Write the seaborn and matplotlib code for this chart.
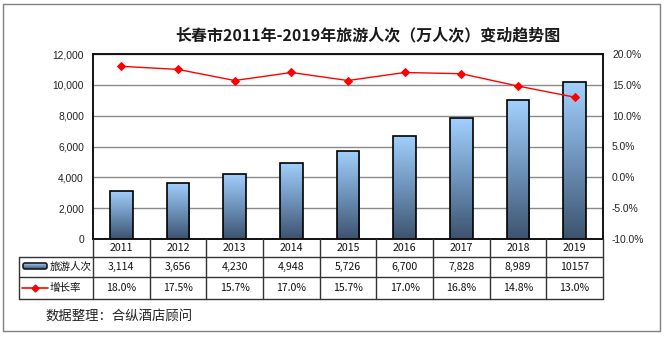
import numpy as np
import pandas as pd
import matplotlib
matplotlib.use("Agg")
import matplotlib.pyplot as plt
import seaborn as sns
from matplotlib.patches import Rectangle, FancyBboxPatch
from matplotlib.colors import LinearSegmentedColormap
from matplotlib.ticker import FuncFormatter, MultipleLocator
from matplotlib.lines import Line2D

# ---------------- data ----------------
years = ["2011", "2012", "2013", "2014", "2015", "2016", "2017", "2018", "2019"]
visitors = [3114, 3656, 4230, 4948, 5726, 6700, 7828, 8989, 10157]
visitor_labels = ["3,114", "3,656", "4,230", "4,948", "5,726", "6,700", "7,828", "8,989", "10157"]
growth = [18.0, 17.5, 15.7, 17.0, 15.7, 17.0, 16.8, 14.8, 13.0]
series_names = ["旅游人次", "增长率"]
title = "长春市2011年-2019年旅游人次（万人次）变动趋势图"
source = "数据整理：合纵酒店顾问"

sns.set_theme(style="white")
plt.rcParams['font.family'] = ['Noto Sans CJK SC', 'DejaVu Sans']

W, H = 664, 337
fig = plt.figure(figsize=(W / 100, H / 100), dpi=100)
fig.patch.set_facecolor("white")

def fx(x):
    return x / W

def fy(y):
    return 1 - y / H

L, R, T, B = 93, 603, 54, 239
unit = (R - L) / len(years)

ax = fig.add_axes([fx(L), fy(B), (R - L) / W, (B - T) / H])
df = pd.DataFrame({"year": years, "visitors": visitors, "growth": growth})
sns.barplot(data=df, x="year", y="visitors", ax=ax, width=0.4, color="#7fa8d0",
            edgecolor="black", linewidth=1.2, zorder=3)

cmap = LinearSegmentedColormap.from_list("g", ["#3d536e", "#6e93bb", "#a2d0fd"])
grad = np.linspace(0, 1, 256).reshape(-1, 1)
for p in list(ax.patches):
    x0, y0 = p.get_x(), p.get_y()
    w, h = p.get_width(), p.get_height()
    im = ax.imshow(grad, extent=[x0, x0 + w, y0, y0 + h], origin="lower",
                   cmap=cmap, aspect="auto", zorder=3.5, interpolation="bilinear")
    im.set_clip_path(p)
    p.set_facecolor("none")
    p.set_zorder(4)

ax.set_xlim(-0.5, len(years) - 0.5)
ax.set_ylim(0, 12000)
ax.yaxis.set_major_locator(MultipleLocator(2000))
ax.yaxis.set_major_formatter(FuncFormatter(lambda v, p: f"{int(v):,}"))
ax.set_xticks([])
ax.set_xlabel("")
ax.set_ylabel("")
ax.yaxis.grid(True, color="#8a8a8a", lw=1)
ax.set_axisbelow(True)
ax.tick_params(axis="y", length=0, pad=6.5, labelsize=7.4, labelcolor="#222222")
for lab in ax.get_yticklabels():
    lab.set_fontfamily(["Liberation Sans", "DejaVu Sans"])
for s in ax.spines.values():
    s.set_color("#111111")
    s.set_linewidth(1.2)

ax2 = ax.twinx()
sns.lineplot(x=np.arange(len(years)), y=growth, ax=ax2, color="#ff0000", lw=1,
             marker="D", markersize=4, markeredgecolor="#ff0000", zorder=5)
ax2.set_xlim(-0.5, len(years) - 0.5)
ax2.set_ylim(-10, 20)
ax2.yaxis.set_major_locator(MultipleLocator(5))
ax2.yaxis.set_major_formatter(FuncFormatter(lambda v, p: f"{v:.1f}%"))
ax2.tick_params(axis="y", length=0, pad=6.5, labelsize=7.4, labelcolor="#222222")
for lab in ax2.get_yticklabels():
    lab.set_fontfamily(["Liberation Sans", "DejaVu Sans"])
ax2.set_ylabel("")
ax2.grid(False)
for s in ax2.spines.values():
    s.set_color("#111111")
    s.set_linewidth(1.2)

# ---------------- data table ----------------
TL = 19
rows = [239, 257, 277, 299]
tax = fig.add_axes([fx(TL), fy(rows[-1]), (R - TL) / W, (rows[-1] - rows[0]) / H])
tax.set_xlim(-0.5 - (L - TL) / unit, len(years) - 0.5)
tax.set_ylim(rows[-1], rows[0])
tax.axis("off")
xleft = -0.5 - (L - TL) / unit
lc = "#333333"
for yy in rows[1:]:
    tax.plot([xleft, len(years) - 0.5], [yy, yy], color=lc, lw=1, clip_on=False)
for k in range(len(years) + 1):
    tax.plot([k - 0.5, k - 0.5], [rows[0], rows[-1]], color=lc, lw=1, clip_on=False)
tax.plot([xleft, xleft], [rows[1], rows[-1]], color=lc, lw=1, clip_on=False)

fs = 7.6
for i in range(len(years)):
    tax.text(i, (rows[0] + rows[1]) / 2, years[i], ha="center", va="center", fontsize=fs, color="#111111")
    tax.text(i, (rows[1] + rows[2]) / 2, visitor_labels[i], ha="center", va="center", fontsize=fs, color="#111111")
    tax.text(i, (rows[2] + rows[3]) / 2, f"{growth[i]:.1f}%", ha="center", va="center", fontsize=fs, color="#111111")

# ---------------- overlay (legend symbols, title, source, border) ----------------
oax = fig.add_axes([0, 0, 1, 1])
oax.set_xlim(0, W)
oax.set_ylim(H, 0)
oax.axis("off")
oax.set_zorder(-1)

oax.add_patch(Rectangle((3, 4), 657, 327, fill=False, edgecolor="#808080", lw=1))

sym = FancyBboxPatch((23, 263), 24, 6, boxstyle="round,pad=0,rounding_size=2",
                     facecolor="none", edgecolor="#1a1a1a", lw=1.2, zorder=6)
oax.add_patch(sym)
im = oax.imshow(grad, extent=[23, 47, 269, 263], origin="lower", cmap=cmap,
                aspect="auto", zorder=5)
im.set_clip_path(sym)
oax.set_xlim(0, W)
oax.set_ylim(H, 0)
oax.text(50, 267, series_names[0], ha="left", va="center", fontsize=fs, color="#111111")
oax.add_line(Line2D([22, 48], [288, 288], color="#ff0000", lw=1.2))
oax.add_line(Line2D([35], [288], color="#ff0000", marker="D", markersize=3.5))
oax.text(50, 288, series_names[1], ha="left", va="center", fontsize=fs, color="#111111")

fig.text(fx(368), fy(35), title, ha="center", va="center", fontsize=11.5,
         fontweight="bold", color="#1a1a1a")
fig.text(fx(46), fy(316), source, ha="left", va="center", fontsize=9.6, color="#222222")

fig.savefig("out.png", dpi=100, facecolor="white")
